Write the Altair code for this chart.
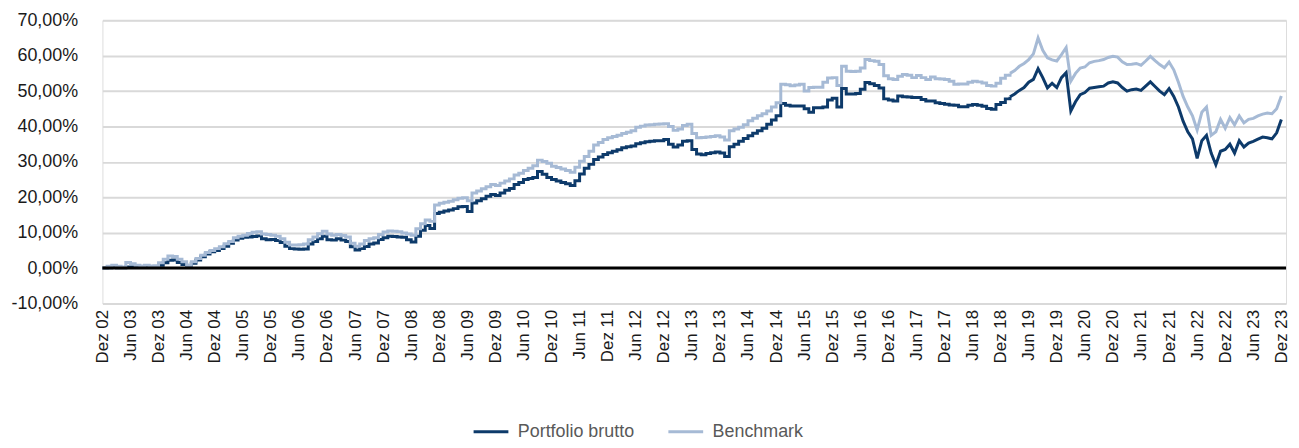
import altair as alt
import pandas as pd

SERIES = ["Portfolio brutto", "Benchmark"]
COLORS = ["#0d3a6a", "#a6bad5"]

# month index 0 = Dez 02 ... 252 = Dez 23
portfolio = [
    0.0, 0.1, 0.2, 0.1, 0.1, 0.3, 0.3, 0.2, 0.2, 0.3, 0.2, 0.3,
    0.8, 1.5, 2.2, 2.3, 1.6, 1.0, 0.6, 1.4, 2.3, 3.2, 4.0, 4.6,
    5.0, 5.5, 6.2, 7.0, 7.9, 8.4, 8.7, 8.8, 8.9, 9.1, 8.3, 8.0,
    8.1, 7.8, 7.2, 6.2, 5.5, 5.4, 5.3, 5.4, 6.8, 7.5, 8.3, 9.0,
    8.0, 7.9, 8.3, 7.9, 7.5, 6.0, 5.1, 5.5, 6.1, 6.8, 7.1, 8.1,
    8.6, 9.0, 8.9, 8.8, 8.7, 8.0, 7.4, 9.0, 10.7, 12.0, 11.2, 15.4,
    15.8, 16.1, 16.4, 16.8, 17.3, 17.4, 16.0, 18.4, 19.0, 19.6, 20.3, 20.8,
    20.5, 21.2, 22.0, 22.5, 23.6, 24.2, 25.0, 25.3, 25.6, 27.3, 26.5, 25.6,
    25.0, 24.6, 24.2, 23.8, 23.3, 24.7, 26.6, 28.2, 29.3, 30.7, 31.4, 32.1,
    32.6, 33.0, 33.4, 34.0, 34.3, 34.5, 35.1, 35.4, 35.7, 35.8, 36.0, 36.0,
    36.3, 35.0, 34.2, 34.8, 35.8, 36.0, 33.5, 32.2, 32.0, 32.4, 32.6, 32.8,
    32.5, 31.5, 34.3, 35.0, 35.8, 36.6, 37.4, 38.1, 38.8, 39.5, 40.6, 41.8,
    43.0, 46.5, 46.0, 45.8, 45.8, 45.8, 45.0, 44.0, 45.3, 45.3, 45.5, 47.5,
    48.0, 45.5, 50.7, 49.2, 49.2, 49.3, 50.5, 52.4, 52.1, 51.6, 50.9, 47.8,
    47.5, 47.2, 48.6, 48.4, 48.3, 48.2, 48.2, 47.6, 47.2, 47.2, 46.7, 46.5,
    46.3, 46.1, 46.0, 45.6, 45.6, 46.0, 46.2, 46.0, 45.7, 45.1, 44.9, 46.2,
    46.8, 47.8, 48.4, 49.2, 50.2, 51.0, 52.5, 53.3, 56.3, 53.8, 50.9, 52.2,
    51.0, 53.8, 55.2, 44.4, 47.0, 49.0, 49.6, 50.8, 51.0, 51.2, 51.4, 52.3,
    52.6, 52.3, 51.0, 50.0, 50.4, 50.6, 50.2, 51.4, 52.6, 51.3, 50.0, 49.0,
    50.7, 48.5, 45.5, 41.5, 38.5, 36.5, 31.0, 36.0, 37.5, 32.5, 29.2, 33.0,
    33.5, 35.0, 32.5, 36.0, 34.2, 35.3, 35.8, 36.4, 37.0, 36.8, 36.5, 38.2, 42.0,
]

benchmark = [
    0.0, 0.5, 0.8, 0.5, 0.3, 1.6, 1.2, 0.8, 0.6, 0.8, 0.6, 0.7,
    1.5, 2.5, 3.4, 3.3, 2.5, 1.8, 0.8, 1.8, 2.7, 3.6, 4.4, 5.0,
    5.5, 6.0, 6.9, 7.5, 8.6, 9.0, 9.3, 9.8, 10.1, 10.3, 9.6, 9.5,
    9.3, 9.0, 8.3, 7.3, 6.5, 6.5, 6.6, 6.8, 8.0, 8.8, 9.7, 10.4,
    9.6, 9.3, 9.5, 9.2, 8.8, 7.0, 6.2, 6.8, 7.8, 8.3, 8.6, 9.5,
    10.2, 10.5, 10.4, 10.3, 9.9, 9.6, 9.3, 11.1, 12.5, 13.6, 13.2, 17.8,
    18.3, 18.6, 18.9, 19.3, 19.7, 19.9, 19.0, 21.2, 21.8, 22.4, 23.0, 23.6,
    23.3, 24.0, 24.6, 25.2, 26.3, 26.8, 27.6, 28.2, 28.9, 30.5, 30.1, 29.6,
    28.8, 28.4, 28.0, 27.6, 27.1, 28.5, 30.2, 31.5, 33.0, 34.8, 35.5, 36.3,
    36.8, 37.2, 37.5, 38.0, 38.4, 38.8, 39.8, 40.1, 40.4, 40.5, 40.6, 40.7,
    40.8, 40.0, 38.9, 39.3, 40.3, 40.6, 38.0, 36.8, 36.9, 37.0, 37.2, 37.4,
    37.0, 36.2, 38.8, 39.3, 39.8, 40.5, 41.6, 42.3, 43.0, 43.6, 44.4, 45.5,
    46.7, 51.9, 51.8, 51.5, 51.7, 51.9, 50.0, 51.0, 51.1, 51.1, 52.5, 53.7,
    53.8, 51.6, 57.0, 55.6, 55.5, 55.6, 56.5, 58.9, 58.6, 58.4, 57.5, 54.3,
    53.5, 53.3, 54.2, 54.7, 54.5, 53.8, 54.4, 53.8, 53.3, 54.0, 53.5, 53.4,
    53.3, 52.8, 51.9, 52.0, 52.0, 52.5, 52.8, 52.6, 52.3, 51.6, 51.4, 52.2,
    53.6, 54.5, 55.0, 55.8, 57.0, 57.8, 58.9, 60.5, 65.0, 61.5, 59.4, 58.8,
    58.5, 60.3, 62.3, 52.8, 55.0, 56.5, 56.8, 58.0, 58.4, 58.6, 58.9, 59.5,
    59.8, 59.6, 58.3, 57.5, 57.6, 57.8, 57.3, 58.5, 59.8, 58.6, 57.5, 56.6,
    58.2, 56.0, 52.5, 48.5, 45.5, 43.0, 39.0, 44.0, 45.5, 37.5, 38.5, 42.0,
    39.5, 42.5, 40.5, 43.0, 41.0, 42.0, 42.3, 43.0, 43.5, 43.8, 43.6, 45.0, 48.6,
]

months = list(range(len(portfolio)))
tick_months = list(range(0, 253, 6))
y_ticks = list(range(-10, 80, 10))
STEP_END = 194  # stepped look up to here, jagged (linear) afterwards

df = pd.DataFrame({
    "m": months + months,
    "v": portfolio + benchmark,
    "series": [SERIES[0]] * len(portfolio) + [SERIES[1]] * len(benchmark),
})

x_label = ("(datum.value % 12 == 0 ? 'Dez ' : 'Jun ') + "
           "(floor((datum.value + 6) / 12) + 2 < 10 ? '0' : '') + "
           "(floor((datum.value + 6) / 12) + 2)")
y_label = "replace(replace(format(datum.value, '.2f'), '.', ','), '\u2212', '-') + '%'"

x_enc = alt.X(
    "m:Q",
    scale=alt.Scale(domain=[0, 253], nice=False, zero=False),
    axis=alt.Axis(values=tick_months, labelExpr=x_label, labelAngle=270,
                  labelAlign="right", labelBaseline="middle", labelPadding=6,
                  labelFontSize=17, labelColor="#1a1a1a", grid=False, ticks=False,
                  domain=False, title=None, labelOverlap=False, labelFlush=False),
)
y_enc = alt.Y(
    "v:Q",
    scale=alt.Scale(domain=[-10, 70], nice=False, zero=False),
    axis=alt.Axis(values=y_ticks, labelExpr=y_label, grid=True, gridColor="#d9d9d9",
                  gridWidth=2, ticks=False, domain=False, labelPadding=25,
                  labelFontSize=18, labelColor="#1a1a1a", title=None,
                  labelOverlap=False, tickCount=9),
)
color_enc = alt.Color(
    "series:N",
    scale=alt.Scale(domain=SERIES, range=COLORS),
    legend=alt.Legend(orient="none", legendX=372, legendY=395, direction="horizontal",
                      title=None, symbolType="stroke", symbolStrokeWidth=3,
                      symbolSize=1225, labelFontSize=18, labelColor="#595959",
                      columnPadding=27, labelOffset=8),
)


def layer_for(name, early):
    cond = (alt.datum.m <= STEP_END) if early else (alt.datum.m >= STEP_END)
    return alt.Chart(df).mark_line(
        interpolate="step-after" if early else "linear", strokeWidth=3
    ).encode(x=x_enc, y=y_enc, color=color_enc).transform_filter(
        alt.datum.series == name
    ).transform_filter(cond)


zero = alt.Chart(pd.DataFrame({"v": [0]})).mark_rule(color="black", strokeWidth=3).encode(
    y=y_enc
)

chart = alt.layer(
    layer_for(SERIES[0], True), layer_for(SERIES[0], False),
    layer_for(SERIES[1], True), layer_for(SERIES[1], False),
    zero,
).properties(
    width=1191,
    height=285,
    autosize=alt.AutoSizeParams(type="none"),
    padding={"left": 95, "top": 11, "right": 5, "bottom": 136},
).configure_view(stroke=None).configure(
    font="Liberation Sans"
).configure_axis(labelFont="Liberation Sans").configure_legend(labelFont="Liberation Sans")

chart.save("out.html", embed_options={"renderer": "svg", "actions": False})
